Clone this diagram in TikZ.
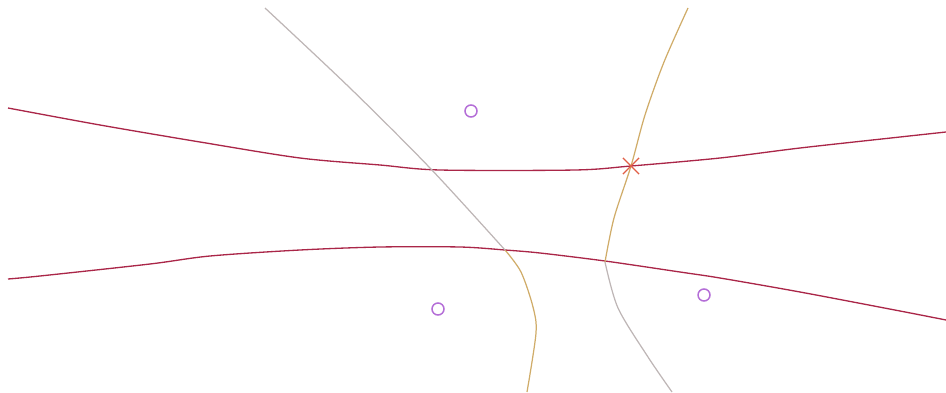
\documentclass[tikz,border=0pt]{standalone}
\usetikzlibrary{shapes.misc}

\begin{document}
\begin{tikzpicture}[x=0.02cm, y=-0.02cm,
  redline/.style={draw={rgb,255:red,170;green,38;blue,72}, line width=0.75pt},
  greyline/.style={draw={rgb,255:red,190;green,182;blue,182}, line width=0.7pt},
  tanline/.style={draw={rgb,255:red,208;green,172;blue,105}, line width=0.7pt},
  site/.style={circle, draw={rgb,255:red,180;green,110;blue,215}, line width=0.85pt, minimum size=0.24cm, inner sep=0pt},
  saddle/.style={cross out, draw={rgb,255:red,225;green,95;blue,70}, line width=0.7pt, minimum size=0.3cm, inner sep=0pt}]
\useasboundingbox (0,0) rectangle (946,392);
% level curves
\draw[redline] plot[smooth] coordinates {(8,108) (100,125) (200,142) (300,158) (380,165) (440,170) (575,170) (631,166) (720,158) (800,148) (900,137) (946,132)};
\draw[redline] plot[smooth] coordinates {(8,279) (40,276) (150,264) (210,256) (300,250) (380,247) (460,247) (505,250) (540,253) (605,261) (680,272) (720,278) (800,292) (900,311) (946,320)};
% separatrices
\draw[greyline] plot[smooth] coordinates {(265,8) (350,88) (430,168) (505,250)};
\draw[tanline] plot[smooth] coordinates {(505,250) (521,272) (533,307) (536,333) (527,392)};
\draw[tanline] plot[smooth] coordinates {(688,8) (664,62) (645,115) (631,166) (614,218) (605,262)};
\draw[greyline] plot[smooth] coordinates {(605,262) (618,308) (648,357) (672,392)};
% sites and saddle point
\node[site] (s1) at (471,111) {};
\node[site] (s2) at (438,309) {};
\node[site] (s3) at (704,295) {};
\node[saddle] (x1) at (631,166) {};
\end{tikzpicture}
\end{document}
